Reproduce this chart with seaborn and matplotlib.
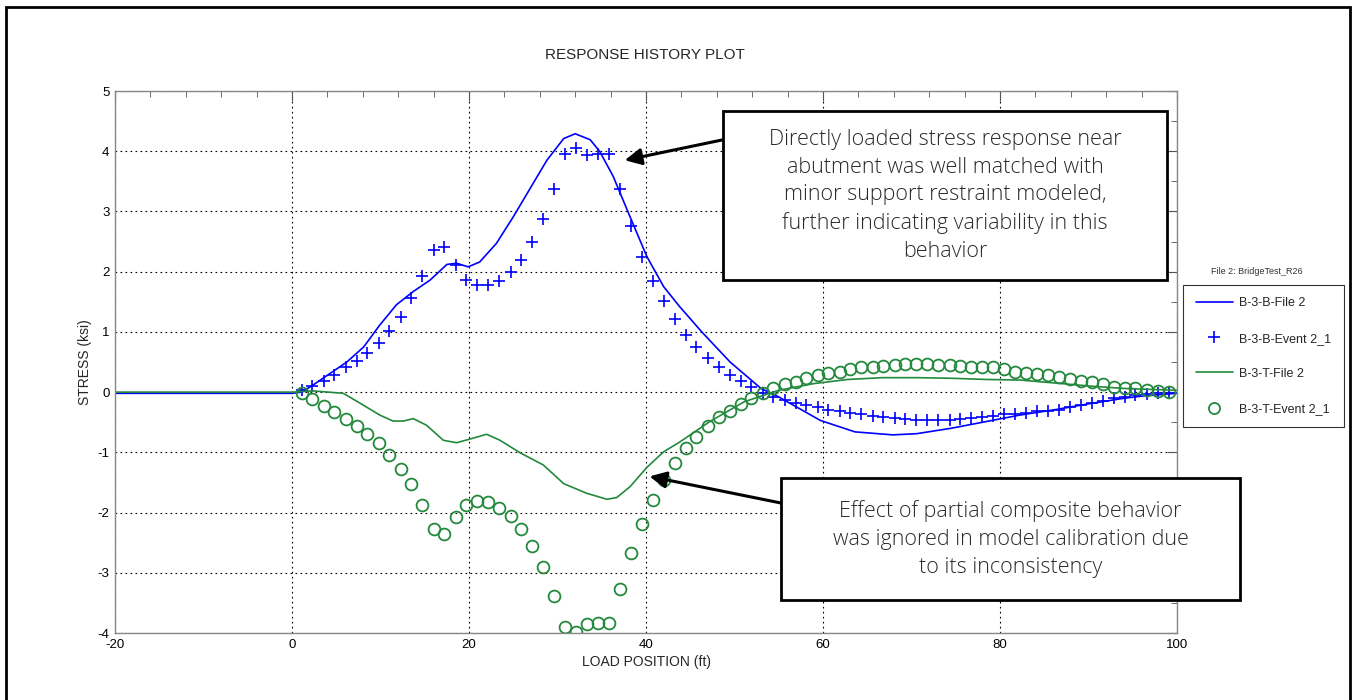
import matplotlib
matplotlib.use('Agg')
import matplotlib.pyplot as plt
import matplotlib.patches as mpatches
from matplotlib.lines import Line2D
from matplotlib.ticker import MultipleLocator
import seaborn as sns

# Measured event positions (ft) and stresses (ksi)
event_x = [1.1, 2.3, 3.6, 4.8, 6.1, 7.3, 8.5, 9.8, 11.0, 12.3, 13.5, 14.7, 16.0, 17.2,
           18.5, 19.7, 20.9, 22.2, 23.4, 24.7, 25.9, 27.1, 28.4, 29.6, 30.9, 32.1, 33.3,
           34.6, 35.8, 37.1, 38.3, 39.5, 40.8, 42.0, 43.3, 44.5, 45.7, 47.0, 48.2, 49.5,
           50.7, 51.9, 53.2, 54.4, 55.7, 56.9, 58.1, 59.4, 60.6, 61.9, 63.1, 64.3, 65.6,
           66.8, 68.1, 69.3, 70.5, 71.8, 73.0, 74.3, 75.5, 76.7, 78.0, 79.2, 80.5, 81.7,
           82.9, 84.2, 85.4, 86.7, 87.9, 89.1, 90.4, 91.6, 92.9, 94.1, 95.3, 96.6, 97.8, 99.1]

b_event = [0.03, 0.10, 0.19, 0.28, 0.41, 0.52, 0.65, 0.82, 1.02, 1.25, 1.56, 1.92, 2.36,
           2.41, 2.11, 1.86, 1.78, 1.78, 1.84, 1.99, 2.20, 2.50, 2.87, 3.38, 3.95, 4.05,
           3.93, 3.95, 3.95, 3.37, 2.76, 2.25, 1.84, 1.51, 1.22, 0.95, 0.75, 0.57, 0.42,
           0.28, 0.18, 0.09, -0.01, -0.08, -0.13, -0.18, -0.22, -0.25, -0.29, -0.31, -0.34,
           -0.37, -0.39, -0.41, -0.43, -0.44, -0.46, -0.46, -0.46, -0.46, -0.45, -0.43,
           -0.42, -0.40, -0.37, -0.36, -0.34, -0.32, -0.31, -0.29, -0.25, -0.22, -0.18,
           -0.14, -0.10, -0.08, -0.05, -0.03, -0.01, -0.01]

t_event = [-0.02, -0.12, -0.23, -0.33, -0.44, -0.56, -0.70, -0.85, -1.04, -1.27, -1.53,
           -1.87, -2.28, -2.36, -2.08, -1.87, -1.81, -1.83, -1.92, -2.06, -2.28, -2.55,
           -2.91, -3.38, -3.90, -3.98, -3.85, -3.84, -3.83, -3.27, -2.67, -2.19, -1.79,
           -1.46, -1.17, -0.92, -0.74, -0.56, -0.41, -0.31, -0.19, -0.09, -0.02, 0.06,
           0.13, 0.17, 0.24, 0.28, 0.31, 0.34, 0.38, 0.41, 0.42, 0.44, 0.45, 0.47, 0.47,
           0.47, 0.45, 0.45, 0.44, 0.42, 0.41, 0.41, 0.38, 0.34, 0.31, 0.30, 0.28, 0.25,
           0.22, 0.19, 0.17, 0.13, 0.09, 0.07, 0.06, 0.03, 0.02, 0.00]

# Model (File 2) responses
b_file_x = [-20, -10, 0, 1.1, 2.4, 4.3, 6.2, 8.1, 9.9, 11.8, 13.7, 15.6, 17.5, 18.6, 19.9,
            21.2, 23.1, 25.0, 26.9, 28.8, 30.7, 32.0, 33.7, 34.8, 36.3, 38.2, 40.1, 42.0,
            43.8, 46.3, 49.5, 53.0, 55.0, 59.7, 63.6, 67.9, 70.6, 74.5, 78.4, 82.3, 86.3,
            90.2, 94.1, 96.4, 100]
b_file = [-0.02, -0.02, -0.02, 0.0, 0.12, 0.31, 0.50, 0.75, 1.11, 1.45, 1.67, 1.86, 2.12,
          2.14, 2.08, 2.16, 2.47, 2.91, 3.38, 3.85, 4.21, 4.29, 4.19, 3.99, 3.58, 2.91,
          2.25, 1.75, 1.42, 1.00, 0.50, 0.06, -0.08, -0.47, -0.66, -0.71, -0.69, -0.60,
          -0.49, -0.38, -0.29, -0.19, -0.10, -0.06, -0.02]

t_file_x = [-20, -10, 0, 2.4, 5.8, 8.1, 9.9, 11.4, 12.6, 13.7, 15.2, 17.1, 18.6, 20.1,
            22.0, 23.5, 25.8, 28.4, 30.7, 33.3, 35.6, 36.7, 38.2, 40.1, 42.0, 43.8, 47.2,
            51.1, 55.0, 58.9, 62.8, 66.7, 70.6, 74.5, 78.4, 82.3, 86.3, 90.2, 94.1, 100]
t_file = [0.0, 0.0, 0.0, 0.02, -0.02, -0.22, -0.38, -0.48, -0.48, -0.44, -0.55, -0.80,
          -0.84, -0.78, -0.70, -0.80, -1.01, -1.21, -1.52, -1.68, -1.78, -1.75, -1.57,
          -1.25, -0.99, -0.83, -0.49, -0.16, 0.03, 0.14, 0.21, 0.24, 0.24, 0.23, 0.21,
          0.20, 0.15, 0.10, 0.06, 0.03]

labels = ['B-3-B-File 2', 'B-3-B-Event 2_1', 'B-3-T-File 2', 'B-3-T-Event 2_1']
note1 = ('Directly loaded stress response near\nabutment was well matched with\n'
         'minor support restraint modeled,\nfurther indicating variability in this\nbehavior')
note2 = ('Effect of partial composite behavior\nwas ignored in model calibration due\n'
         'to its inconsistency')

BLUE = '#0000ff'
GREEN = '#23893c'
W, H = 1352, 700

sns.set_style('white')
plt.rcParams['font.family'] = ['Liberation Sans', 'DejaVu Sans']
plt.rcParams['axes.unicode_minus'] = False

fig = plt.figure(figsize=(W / 100, H / 100), dpi=100)
ax = fig.add_axes([115 / W, 1 - 633 / H, (1177 - 115) / W, (633 - 91) / H])

sns.lineplot(x=b_file_x, y=b_file, ax=ax, color=BLUE, lw=1.2)
sns.lineplot(x=event_x, y=b_event, ax=ax, color=BLUE, linestyle='none',
             marker='+', markersize=9, mew=1.2, mec=BLUE)
sns.lineplot(x=t_file_x, y=t_file, ax=ax, color=GREEN, lw=1.2)
sns.lineplot(x=event_x, y=t_event, ax=ax, color=GREEN, linestyle='none',
             marker='o', markersize=8.5, mfc='none', mec=GREEN, mew=1.3)

ax.set_xlim(-20, 100)
ax.set_ylim(-4, 5)
ax.xaxis.set_major_locator(MultipleLocator(20))
ax.xaxis.set_minor_locator(MultipleLocator(4))
ax.yaxis.set_major_locator(MultipleLocator(1))
ax.yaxis.set_minor_locator(MultipleLocator(0.5))
ax.tick_params(which='both', direction='in', top=True, right=True, colors='#555555',
               labelcolor='black', labelsize=9.5, pad=4)
ax.tick_params(which='major', length=7)
ax.tick_params(which='minor', length=4)
ax.grid(True, which='major', color='black', linestyle=(0, (1.5, 3)), lw=0.8)
for s in ax.spines.values():
    s.set_color('#888888')
    s.set_linewidth(1)

ax.set_xlabel('LOAD POSITION (ft)', fontsize=10, labelpad=3)
ax.set_ylabel('STRESS (ksi)', fontsize=10, labelpad=4)
fig.text(645 / W, 1 - 55 / H, 'RESPONSE HISTORY PLOT', fontsize=11, ha='center', va='center')

# annotation boxes
for (x0, y0, x1, y1), txt in [((723, 111, 1167, 280), note1), ((781, 478, 1240, 600), note2)]:
    fig.add_artist(mpatches.Rectangle((x0 / W, 1 - y1 / H), (x1 - x0) / W, (y1 - y0) / H,
                                      transform=fig.transFigure, fc='white', ec='black',
                                      lw=2, zorder=5))
    fig.text((x0 + x1) / 2 / W, 1 - (y0 + y1) / 2 / H, txt, ha='center', va='center',
             fontsize=15.5, family='Open Sans', weight='light', color='#2a2a2a',
             linespacing=1.42, zorder=6)

# arrows
arrow = dict(arrowstyle='-|>', lw=2.2, color='black', mutation_scale=25, shrinkA=0, shrinkB=0)
ax.annotate('', xy=(37.6, 3.85), xytext=(48.7, 4.19), arrowprops=arrow, annotation_clip=False)
ax.annotate('', xy=(40.4, -1.40), xytext=(55.2, -1.84), arrowprops=arrow, annotation_clip=False)

# legend
handles = [Line2D([], [], color=BLUE, lw=1.2),
           Line2D([], [], color=BLUE, ls='none', marker='+', markersize=9, mew=1.2),
           Line2D([], [], color=GREEN, lw=1.2),
           Line2D([], [], color=GREEN, ls='none', marker='o', markersize=8, mfc='none', mew=1.3)]
leg = fig.legend(handles, labels, loc='upper left', bbox_to_anchor=(1183 / W, 1 - 285 / H),
                 fontsize=9, frameon=True, fancybox=False, edgecolor='black',
                 handlelength=3, labelspacing=1.85, borderpad=1.0, handletextpad=0.5,
                 borderaxespad=0)
leg.get_frame().set_linewidth(0.8)
fig.text(1257 / W, 1 - 272 / H, 'File 2: BridgeTest_R26', fontsize=6.5, ha='center',
         va='center', color='#333333')

# outer frame
fig.add_artist(mpatches.Rectangle((6 / W, -0.05), (1350 - 6) / W, 1.05 - 7 / H,
                                  transform=fig.transFigure, fill=False, ec='black',
                                  lw=2, zorder=10))

fig.savefig('out.png', dpi=100)
plt.close(fig)
